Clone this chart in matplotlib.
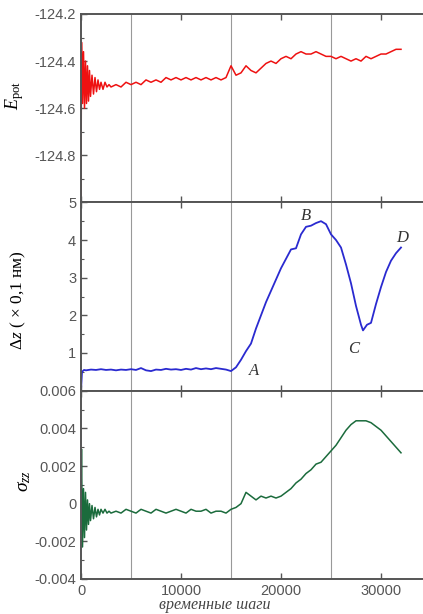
import matplotlib

matplotlib.use("Agg")
import matplotlib.pyplot as plt
from matplotlib.ticker import MultipleLocator, FixedLocator

plt.rcParams["axes.unicode_minus"] = False
plt.rcParams["font.family"] = ["Liberation Sans", "DejaVu Sans"]
plt.rcParams["mathtext.fontset"] = "custom"
plt.rcParams["mathtext.rm"] = "Liberation Serif"
plt.rcParams["mathtext.it"] = "Liberation Serif:italic"

# --- data ---
e_steps = [0, 50, 150, 250, 350, 450, 550, 650, 750, 850, 950, 1100, 1250, 1400,
           1550, 1700, 1850, 2000, 2200, 2400, 2600, 2800, 3000,
           3500, 4000, 4500, 5000, 5500, 6000, 6500, 7000, 7500, 8000, 8500, 9000,
           9500, 10000, 10500, 11000, 11500, 12000, 12500, 13000, 13500, 14000,
           14500, 15000, 15500, 16000, 16500, 17000, 17500, 18000, 18500, 19000,
           19500, 20000, 20500, 21000, 21500, 22000, 22500, 23000, 23500, 24000,
           24500, 25000, 25500, 26000, 26500, 27000, 27500, 28000, 28500, 29000,
           29500, 30000, 30500, 31000, 31500, 32000]
e_pot = [-124.97, -124.32, -124.58, -124.36, -124.60, -124.40, -124.58, -124.42,
         -124.57, -124.44, -124.55, -124.46, -124.54, -124.47, -124.53, -124.48,
         -124.52, -124.49, -124.52, -124.49, -124.51, -124.50, -124.51,
         -124.50, -124.51, -124.49, -124.50, -124.49, -124.50, -124.48, -124.49,
         -124.48, -124.49, -124.47, -124.48, -124.47, -124.48, -124.47, -124.48,
         -124.47, -124.48, -124.47, -124.48, -124.47, -124.48, -124.47, -124.42,
         -124.46, -124.45, -124.42, -124.44, -124.45, -124.43, -124.41, -124.40,
         -124.41, -124.39, -124.38, -124.39, -124.37, -124.36, -124.37, -124.37,
         -124.36, -124.37, -124.38, -124.38, -124.39, -124.38, -124.39, -124.40,
         -124.39, -124.40, -124.38, -124.39, -124.38, -124.37, -124.37, -124.36,
         -124.35, -124.35]

dz_steps = [0, 100, 300, 500, 1000, 1500, 2000, 2500, 3000, 3500, 4000, 4500, 5000,
            5500, 6000, 6500, 7000, 7500, 8000, 8500, 9000, 9500, 10000, 10500,
            11000, 11500, 12000, 12500, 13000, 13500, 14000, 14500, 15000, 15500,
            16000, 16500, 17000, 17500, 18000, 18500, 19000, 19500, 20000, 20500,
            21000, 21500, 22000, 22500, 23000, 23500, 24000, 24500, 25000, 25500,
            26000, 26500, 27000, 27500, 28000, 28200, 28600, 29000, 29500, 30000,
            30500, 31000, 31500, 32000]
dz = [0.0, 0.50, 0.55, 0.54, 0.56, 0.55, 0.57, 0.55, 0.56, 0.54, 0.56, 0.55, 0.57,
      0.55, 0.60, 0.54, 0.52, 0.56, 0.55, 0.58, 0.56, 0.57, 0.55, 0.58, 0.56, 0.60,
      0.57, 0.59, 0.57, 0.60, 0.58, 0.56, 0.52, 0.62, 0.82, 1.05, 1.25, 1.65, 2.00,
      2.35, 2.65, 2.95, 3.25, 3.50, 3.75, 3.78, 4.15, 4.35, 4.38, 4.45, 4.50, 4.42,
      4.15, 4.00, 3.80, 3.35, 2.85, 2.25, 1.75, 1.60, 1.75, 1.80, 2.30, 2.75, 3.15,
      3.45, 3.65, 3.80]

s_steps = e_steps
sigma_zz = [0.0, 0.0029, -0.0023, 0.0008, -0.0018, 0.0006, -0.0014, 0.0002,
            -0.0011, 0.0000, -0.0009, -0.0001, -0.0008, -0.0002, -0.0007, -0.0003,
            -0.0006, -0.0003, -0.0005, -0.0003, -0.0005, -0.0004, -0.0005,
            -0.0004, -0.0005, -0.0003, -0.0004, -0.0005, -0.0003, -0.0004, -0.0005,
            -0.0003, -0.0004, -0.0005, -0.0004, -0.0003, -0.0004, -0.0005, -0.0003,
            -0.0004, -0.0004, -0.0003, -0.0005, -0.0004, -0.0004, -0.0005, -0.0003,
            -0.0002, 0.0000, 0.0006, 0.0004, 0.0002, 0.0004, 0.0003, 0.0004, 0.0003,
            0.0004, 0.0006, 0.0008, 0.0011, 0.0013, 0.0016, 0.0018, 0.0021, 0.0022,
            0.0025, 0.0028, 0.0031, 0.0035, 0.0039, 0.0042, 0.0044, 0.0044, 0.0044,
            0.0043, 0.0041, 0.0039, 0.0036, 0.0033, 0.0030, 0.0027]

point_labels = ["A", "B", "C", "D"]
point_steps = [17300, 22500, 27300, 32100]
point_values = [0.52, 4.65, 1.1, 4.05]

grid_steps = [5000, 15000, 25000]
x_ticks = [0, 10000, 20000, 30000]

# --- figure ---
fig = plt.figure(figsize=(4.23, 6.14), dpi=100)
left, right = 81 / 423, 1.0
bottom, top = 1 - 579 / 614, 1 - 14 / 614
h = (top - bottom) / 3
axes = [fig.add_axes([left, bottom + (2 - i) * h, right - left, h]) for i in range(3)]

spine_col = "#555555"
tick_col = "#555555"
for ax in axes:
    ax.set_xlim(0, 34200)
    for s in ["top", "bottom", "left"]:
        ax.spines[s].set_color(spine_col)
        ax.spines[s].set_linewidth(1.4)
    ax.spines["right"].set_visible(False)
    ax.xaxis.set_major_locator(FixedLocator(x_ticks))
    ax.tick_params(axis="both", which="both", direction="in", colors=spine_col,
                   labelcolor=tick_col, labelsize=10.5, top=True, right=False)
    ax.tick_params(which="major", length=4, width=1)
    ax.tick_params(which="minor", length=2, width=0.8)
    for g in grid_steps:
        ax.axvline(g, color="#999999", lw=0.8, zorder=0)
    if ax is not axes[2]:
        ax.tick_params(labelbottom=False)

# top panel
ax = axes[0]
ax.plot(e_steps, e_pot, color="#ee1111", lw=1.1)
ax.set_ylim(-125.0, -124.2)
ax.set_yticks([-124.8, -124.6, -124.4, -124.2])
ax.set_yticklabels(["-124.8", "-124.6", "-124.4", "-124.2"])
ax.yaxis.set_minor_locator(MultipleLocator(0.1))
ax.set_ylabel(r"$E_{\mathrm{pot}}$", fontsize=13)
ax.yaxis.set_label_coords(-0.16, 0.57)

# middle panel
ax = axes[1]
ax.plot(dz_steps, dz, color="#2a2ad0", lw=1.3)
ax.set_ylim(0, 5)
ax.set_yticks([1, 2, 3, 4, 5])
ax.set_yticklabels(["1", "2", "3", "4", "5"])
ax.yaxis.set_minor_locator(MultipleLocator(0.5))
ax.set_ylabel(r"$\Delta z$ ( $\times$ 0,1 нм)", fontsize=12.5,
              family=["Liberation Serif", "DejaVu Serif"])
ax.yaxis.set_label_coords(-0.155, 0.48)
for lab, xs, ys in zip(point_labels, point_steps, point_values):
    ax.text(xs, ys, lab, fontsize=12, style="italic", ha="center", va="center",
            family=["Liberation Serif"], color="#333333")

# bottom panel
ax = axes[2]
ax.plot(s_steps, sigma_zz, color="#1b6b3c", lw=1.1)
ax.set_ylim(-0.004, 0.006)
yt = [-0.004, -0.002, 0, 0.002, 0.004, 0.006]
ax.set_yticks(yt)
ax.set_yticklabels(["-0.004", "-0.002", "0", "0.002", "0.004", "0.006"])
ax.yaxis.set_minor_locator(MultipleLocator(0.001))
ax.set_xticklabels(["0", "10000", "20000", "30000"])
ax.set_ylabel(r"$\sigma_{zz}$", fontsize=14)
ax.yaxis.set_label_coords(-0.14, 0.52)
ax.set_xlabel("временные шаги", fontsize=11.5, style="italic",
              family=["Liberation Serif", "DejaVu Serif"], color="#444444", labelpad=-1)
ax.xaxis.set_label_coords(0.39, -0.095)

fig.savefig("out.png", dpi=100)
